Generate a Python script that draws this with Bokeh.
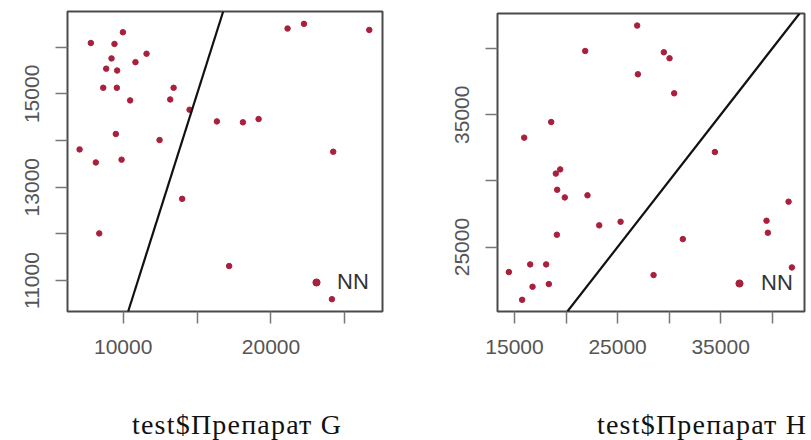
from bokeh.plotting import figure
from bokeh.layouts import row, column
from bokeh.models import (Range1d, FixedTicker, Slope, Legend, LegendItem, Div)
from bokeh.embed import file_html
from bokeh.resources import INLINE

# ---- data: panel G ----
preparat_G = [7810, 9410, 9980, 9210, 11580, 10830, 8850, 9590, 8650, 9570, 13410,
              10470, 13180, 14490, 16340, 18100, 19160, 7050, 9500, 12460, 8150, 9890,
              24210, 13990, 8380, 17170, 21120, 22230, 26650, 24120]
nn_G = [16090, 16070, 16320, 15760, 15860, 15680, 15540, 15500, 15130, 15130, 15130,
        14860, 14880, 14660, 14410, 14390, 14460, 13810, 14140, 14010, 13530, 13590,
        13760, 12750, 12010, 11310, 16400, 16500, 16370, 10600]

# ---- data: panel H ----
preparat_H = [26900, 21860, 29490, 30040, 26970, 30490, 18560, 15940, 34440, 19010,
              19430, 19140, 19880, 22080, 23220, 25290, 19110, 31330, 39450, 39580,
              41590, 41910, 14450, 16520, 18070, 16750, 18330, 15740, 28490]
nn_H = [41740, 39820, 39720, 39270, 38060, 36620, 34450, 33270, 32180, 30550,
        30870, 29330, 28750, 28910, 26640, 26910, 25930, 25600, 26990, 26080,
        28430, 23460, 23110, 23690, 23690, 22000, 22200, 21010, 22880]

# ticks / labels
G_xticks = [10000, 15000, 20000, 25000]
G_xlabels = ["10000", "", "20000", ""]
G_yticks = [11000, 12000, 13000, 14000, 15000, 16000]
G_ylabels = ["11000", "", "13000", "", "15000", ""]
H_xticks = [15000, 20000, 25000, 30000, 35000, 40000]
H_xlabels = ["15000", "", "25000", "", "35000", ""]
H_yticks = [25000, 30000, 35000, 40000]
H_ylabels = ["25000", "", "35000", ""]

titles = ["test$Препарат G", "test$Препарат H"]
legend_text = "NN"

POINT = "#a9203c"
TICKFONT = "Liberation Sans"
FIG_H = 400


def make_panel(xs, ys, xr, yr, xt, xl, yt, yl, w, borders, leg_loc, leg_standoff):
    bl, br, bt, bb = borders
    p = figure(width=w, height=FIG_H, output_backend="svg", toolbar_location=None,
               x_range=Range1d(*xr), y_range=Range1d(*yr),
               min_border_left=bl, min_border_right=br, min_border_top=bt,
               min_border_bottom=bb)
    p.grid.visible = False
    p.background_fill_color = "white"
    p.border_fill_color = "white"
    p.outline_line_color = "#4a4a4a"
    p.outline_line_width = 2
    p.outline_line_alpha = 1

    for ax, ticks, labels in ((p.xaxis[0], xt, xl), (p.yaxis[0], yt, yl)):
        ax.ticker = FixedTicker(ticks=ticks)
        ax.major_label_overrides = {t: l for t, l in zip(ticks, labels)}
        ax.axis_line_color = None
        ax.major_tick_in = 0
        ax.major_tick_out = 12
        ax.major_tick_line_color = "#777777"
        ax.major_tick_line_width = 1.5
        ax.minor_tick_line_color = None
        ax.major_label_text_font = TICKFONT
        ax.major_label_text_font_size = "21px"
        ax.major_label_text_color = "#555555"
        ax.major_label_standoff = 16
    p.yaxis[0].major_label_orientation = "vertical"

    p.add_layout(Slope(gradient=1, y_intercept=0, line_color="#111111", line_width=2.2))

    r = p.scatter(xs, ys, size=5.5, color=POINT, line_color=POINT)

    leg = Legend(items=[LegendItem(label=legend_text, renderers=[r])],
                 location=leg_loc, padding=0, margin=0, spacing=0,
                 glyph_width=18, glyph_height=18, label_height=18,
                 label_standoff=leg_standoff,
                 label_text_font=TICKFONT, label_text_font_size="22px",
                 label_text_color="#333333",
                 border_line_color=None, background_fill_alpha=0)
    p.add_layout(leg)
    return p


def make_title(text, w, left_pad):
    html = ('<div style="padding-left:%dpx;padding-top:9px;'
            'font-family:\'Liberation Serif\',serif;font-size:28px;line-height:normal;'
            'letter-spacing:1.2px;white-space:nowrap;color:#111111">%s</div>') % (left_pad, text)
    return Div(text=html, width=w, height=440 - FIG_H, margin=0)


p1 = make_panel(preparat_G, nn_G, (6232, 27544), (10336, 16765),
                G_xticks, G_xlabels, G_yticks, G_ylabels, 405, (67, 23, 11, FIG_H - 311),
                (240, 16), 12)
p2 = make_panel(preparat_H, nn_H, (13350, 43136), (20129, 42652),
                H_xticks, H_xlabels, H_yticks, H_ylabels, 406, (92, 7, 13, FIG_H - 311),
                (233, 15), 13)

d1 = make_title(titles[0], 405, 132)
d2 = make_title(titles[1], 406, 192)

layout = row(column(p1, d1, spacing=0), column(p2, d2, spacing=0), spacing=0)
open("out.html", "w").write(file_html(layout, INLINE))
